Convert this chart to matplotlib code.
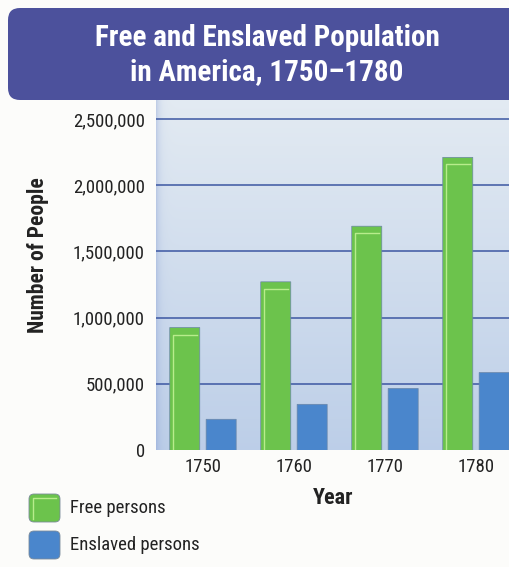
import numpy as np
import matplotlib
matplotlib.use("Agg")
import matplotlib.pyplot as plt
from matplotlib.patches import FancyBboxPatch, Rectangle

# data
years = ["1750", "1760", "1770", "1780"]
free_persons = [925000, 1270000, 1690000, 2210000]
enslaved_persons = [232000, 345000, 465000, 585000]
y_ticks = [0, 500000, 1000000, 1500000, 2000000, 2500000]
y_tick_labels = ["0", "500,000", "1,000,000", "1,500,000", "2,000,000", "2,500,000"]

plt.rcParams['font.family'] = ['Roboto Condensed', 'DejaVu Sans']

W, H = 510, 567
fig = plt.figure(figsize=(W / 100, H / 100), dpi=100)
fig.patch.set_facecolor('#fcfcfa')

# overlay in pixel coords for banner + legend
deco = fig.add_axes([0, 0, 1, 1], zorder=0)
deco.set_xlim(0, W)
deco.set_ylim(H, 0)
deco.axis('off')
deco.add_patch(FancyBboxPatch((8, 8), 100, 92, boxstyle="round,pad=0,rounding_size=12",
                              fc='#4c519c', ec='none'))
deco.add_patch(Rectangle((60, 8), W, 92, fc='#4c519c', ec='none'))
deco.text(267, 38, "Free and Enslaved Population", color='white', fontsize=21,
          fontweight='bold', ha='center', va='center')
deco.text(267, 72, "in America, 1750\u20131780", color='white', fontsize=21,
          fontweight='bold', ha='center', va='center')

# legend
leg_items = [("Free persons", '#6cc34c', 508), ("Enslaved persons", '#4a86cc', 545)]
for lab, col, yc in leg_items:
    deco.add_patch(FancyBboxPatch((29, yc - 14), 31, 28, boxstyle="round,pad=0,rounding_size=5",
                                  fc=col, ec='#7a8a9a', lw=0.6))
    deco.text(70, yc, lab, fontsize=13.5, color='#222222', ha='left', va='center')
deco.plot([33, 33, 56], [519, 498, 498], color='#b8ec8c', lw=1.0)

fig.text(38 / W, 1 - 255 / H, "Number of People", rotation=90, fontsize=15.5,
         fontweight='bold', color='#222222', ha='center', va='center')

# main axes
ax = fig.add_axes([156 / W, 1 - 450 / H, (W - 156) / W, 350 / H], zorder=1)
x = np.arange(len(years))
xmin, xmax = -0.516, 3.374
ymax = 2643000
ax.set_xlim(xmin, xmax)
ax.set_ylim(0, ymax)

# background gradient with darker left edge
ny, nx = 200, 300
t = np.linspace(0, 1, ny)[:, None, None]
top = np.array([0.89, 0.92, 0.95])
bot = np.array([0.74, 0.81, 0.91])
img = top * (1 - t) + bot * t
img = np.repeat(img, nx, axis=1)
edge = np.exp(-np.arange(nx) / 3.0)[None, :, None]
img = img * (1 - 0.3 * edge) + np.array([0.45, 0.55, 0.80]) * 0.3 * edge
ax.imshow(img, extent=[xmin, xmax, 0, ymax], aspect='auto', zorder=0, origin='upper')

for yt in y_ticks[1:]:
    ax.axhline(yt, color='#3c57a2', lw=1.1, zorder=1)

bw = 0.33
off = 0.2
px_x = 91.0
px_y = 66.2 / 500000
aspect = (1 / px_y) / px_x
r = 4 / px_x
for i in range(len(years)):
    for val, xc, col in [(free_persons[i], x[i] - off, '#6cc34c'),
                         (enslaved_persons[i], x[i] + off, '#4a86cc')]:
        p = FancyBboxPatch((xc - bw / 2, -40000), bw, val + 40000,
                           boxstyle=f"round,pad=0,rounding_size={r}",
                           mutation_aspect=aspect, fc=col, ec='#6a86a8', lw=0.5, zorder=2)
        ax.add_patch(p)
    # light inner highlight on free bars
    xl = x[i] - off - bw / 2 + 3 / px_x
    xr = x[i] - off + bw / 2 - 3 / px_x
    yt = free_persons[i] - 7 / px_y
    ax.plot([xl, xl, xr], [0, yt, yt], color='#b8ec8c', lw=1.0, zorder=3)

ax.set_yticks(y_ticks)
ax.set_yticklabels(y_tick_labels)
ax.set_xticks(x)
ax.set_xticklabels(years)
ax.tick_params(axis='both', length=0, labelsize=13.5, colors='#222222')
ax.tick_params(axis='y', pad=8)
ax.tick_params(axis='x', pad=6)
ax.set_xlabel("Year", fontsize=16, fontweight='bold', color='#222222', labelpad=8)
for s in ax.spines.values():
    s.set_visible(False)

fig.savefig("out.png", dpi=100, facecolor=fig.get_facecolor())
